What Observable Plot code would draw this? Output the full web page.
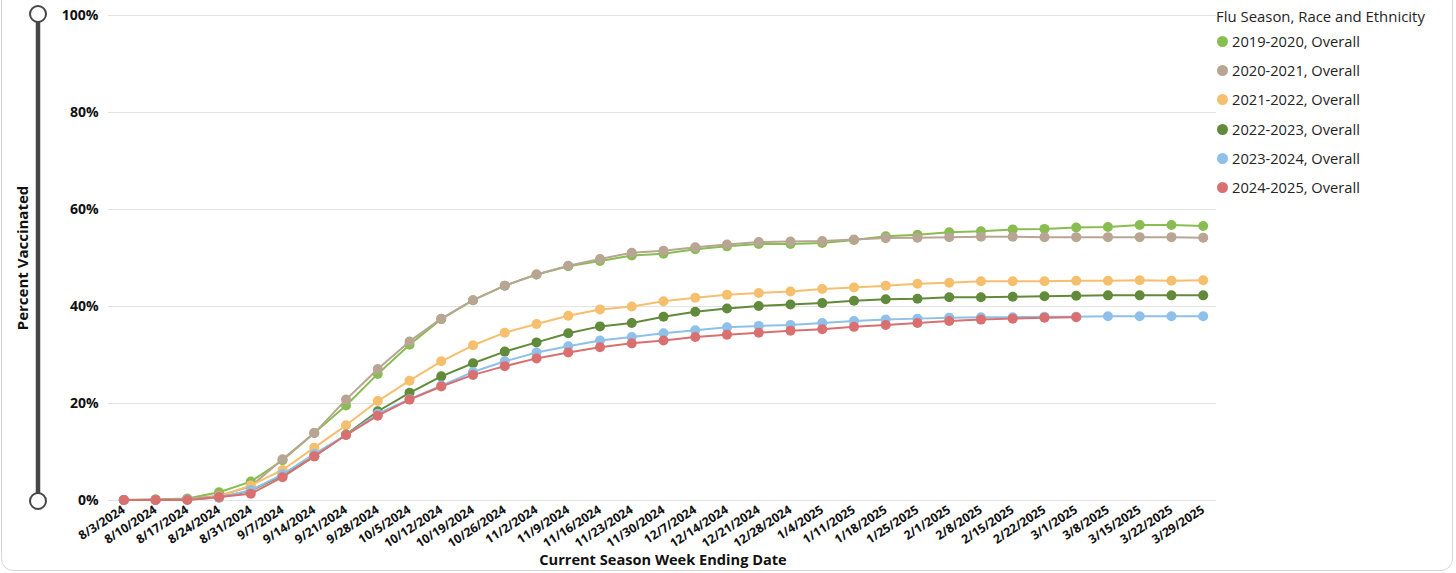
<!DOCTYPE html>
<html><head><meta charset="utf-8">
<script src="https://cdn.jsdelivr.net/npm/d3@7"></script>
<script src="https://cdn.jsdelivr.net/npm/@observablehq/plot@0.6"></script>
<style>
body{margin:0;background:#fff;font-family:"Open Sans",sans-serif;}
#wrap{position:relative;width:1456px;height:573px;overflow:hidden;background:#fff;}
#card{position:absolute;left:1px;top:-14px;width:1452px;height:585px;border:1px solid #d6d6d6;border-radius:12px;box-sizing:border-box;}
#chart{position:absolute;left:0;top:0;}
#chart svg{font-family:"Open Sans",sans-serif;}
#chart g[aria-label="x-axis tick label"]{font-size:12.3px;font-weight:700;fill:#111;}
#chart g[aria-label="y-axis tick label"]{font-size:14px;font-weight:700;fill:#111;}
#legend{position:absolute;left:1216px;top:5px;font-size:14px;color:#252423;}
#legend .t{height:22px;line-height:22px;white-space:nowrap;}
#legend .i{height:29.2px;line-height:29.2px;white-space:nowrap;display:flex;align-items:center;}
#legend .i span.c{display:inline-block;width:11px;height:11px;border-radius:50%;margin-left:1px;margin-right:4px;flex:none;}
#ytitle{position:absolute;left:22px;top:258px;transform:translate(-50%,-50%) rotate(-90deg);font-size:15px;font-weight:700;white-space:nowrap;color:#111;}
#xtitle{position:absolute;left:663px;top:559px;transform:translate(-50%,-50%);font-size:14.6px;font-weight:700;white-space:nowrap;color:#111;}
#deco{position:absolute;left:0;top:0;}
</style></head>
<body>
<div id="wrap">
  <div id="card"></div>
  <div id="chart"></div>
  <svg id="deco" width="80" height="573">
    <line x1="38" y1="14" x2="38" y2="501" stroke="#464646" stroke-width="4.5"/>
    <circle cx="38" cy="14" r="8" fill="#fff" stroke="#464646" stroke-width="2"/>
    <circle cx="38" cy="501" r="8" fill="#fff" stroke="#464646" stroke-width="2"/>
  </svg>
  <div id="ytitle">Percent Vaccinated</div>
  <div id="xtitle">Current Season Week Ending Date</div>
  <div id="legend"></div>
</div>
<script>
const dates = ["8/3/2024","8/10/2024","8/17/2024","8/24/2024","8/31/2024","9/7/2024","9/14/2024","9/21/2024","9/28/2024","10/5/2024","10/12/2024","10/19/2024","10/26/2024","11/2/2024","11/9/2024","11/16/2024","11/23/2024","11/30/2024","12/7/2024","12/14/2024","12/21/2024","12/28/2024","1/4/2025","1/11/2025","1/18/2025","1/25/2025","2/1/2025","2/8/2025","2/15/2025","2/22/2025","3/1/2025","3/8/2025","3/15/2025","3/22/2025","3/29/2025"];

const seriesNames = ["2019-2020, Overall","2020-2021, Overall","2021-2022, Overall","2022-2023, Overall","2023-2024, Overall","2024-2025, Overall"];
const seriesColors = ["#88bd51","#b8a593","#f6bf6d","#628a3b","#8fc0e9","#d9706f"];

const s2019 = [0.1,0.2,0.4,1.7,3.9,8.3,13.9,19.6,26.1,32.1,37.4,41.3,44.3,46.6,48.3,49.4,50.5,50.9,51.8,52.4,52.9,52.9,53.1,53.7,54.5,54.8,55.3,55.5,55.9,56.0,56.3,56.4,56.8,56.8,56.6];
const s2020 = [0.1,0.2,0.3,1.0,2.9,8.5,13.9,20.8,27.1,32.8,37.5,41.3,44.3,46.6,48.4,49.8,51.1,51.5,52.2,52.8,53.3,53.4,53.5,53.8,54.1,54.2,54.3,54.4,54.4,54.3,54.3,54.3,54.3,54.3,54.2];
const s2021 = [0.1,0.1,0.2,0.8,3.1,6.3,10.9,15.5,20.5,24.7,28.7,32.0,34.6,36.4,38.1,39.4,40.0,41.1,41.8,42.4,42.8,43.1,43.6,43.9,44.3,44.7,44.9,45.2,45.2,45.2,45.3,45.3,45.4,45.3,45.4];
const s2022 = [0.1,0.1,0.2,0.6,2.0,5.2,9.1,13.6,18.4,22.2,25.6,28.3,30.7,32.6,34.5,35.9,36.6,37.9,38.9,39.6,40.1,40.4,40.7,41.2,41.5,41.6,41.9,41.9,42.0,42.1,42.2,42.3,42.3,42.3,42.3];
const s2023 = [0.1,0.1,0.2,0.6,2.1,5.4,9.6,13.5,17.9,20.9,23.7,26.5,28.7,30.5,31.8,33.0,33.7,34.5,35.1,35.7,36.0,36.2,36.6,37.0,37.3,37.5,37.7,37.8,37.8,37.9,37.9,38.0,38.0,38.0,38.0];
const s2024 = [0.1,0.1,0.1,0.7,1.4,4.8,9.1,13.5,17.5,20.8,23.5,25.9,27.7,29.3,30.5,31.6,32.4,33.0,33.7,34.2,34.6,35.0,35.3,35.8,36.2,36.6,37.0,37.3,37.5,37.7,37.8];

const yTicks = [0,20,40,60,80,100];

const allSeries = [s2019,s2020,s2021,s2022,s2023,s2024];
const rows = allSeries.map((vals, k) => vals.map((v, i) => ({date: dates[i], series: seriesNames[k], value: v})));

const marks = [
  Plot.gridY(yTicks, {stroke: "#e3e3e3", strokeOpacity: 1}),
  Plot.axisY(yTicks, {tickSize: 0, tickPadding: 10, tickFormat: d => d + "%", label: null}),
  Plot.axisX({tickSize: 0, tickPadding: 8, tickRotate: -33, label: null})
];
rows.forEach(r => {
  marks.push(Plot.line(r, {x: "date", y: "value", stroke: "series", strokeWidth: 2}));
  marks.push(Plot.dot(r, {x: "date", y: "value", fill: "series", r: 5}));
});

const chart = Plot.plot({
  width: 1456,
  height: 573,
  marginLeft: 108,
  marginRight: 240,
  marginTop: 15,
  marginBottom: 73,
  x: {type: "point", domain: dates, padding: 0, round: false, insetLeft: 15.3, insetRight: 13.3},
  y: {domain: [0, 100]},
  color: {domain: seriesNames, range: seriesColors},
  marks
});
document.getElementById("chart").appendChild(chart);

const lg = document.getElementById("legend");
const t = document.createElement("div"); t.className = "t"; lg.appendChild(t);
const tSpan = document.createElement("span"); tSpan.textContent = "Flu Season, Race and Ethnicity"; t.appendChild(tSpan);
const itemSpans = [];
seriesNames.forEach((n, i) => {
  const d = document.createElement("div"); d.className = "i";
  const c = document.createElement("span"); c.className = "c"; c.style.background = seriesColors[i];
  const s = document.createElement("span"); s.textContent = n;
  d.appendChild(c); d.appendChild(s); lg.appendChild(d);
  itemSpans.push(s);
});
// fit legend text widths to the reference proportions
const tw = tSpan.getBoundingClientRect().width;
if (tw > 0) t.style.fontSize = (14 * 209 / tw).toFixed(2) + "px";
const iw = itemSpans[0].getBoundingClientRect().width;
if (iw > 0) itemSpans.forEach(s => s.style.fontSize = (14 * 128 / iw).toFixed(2) + "px");
</script>
</body></html>
